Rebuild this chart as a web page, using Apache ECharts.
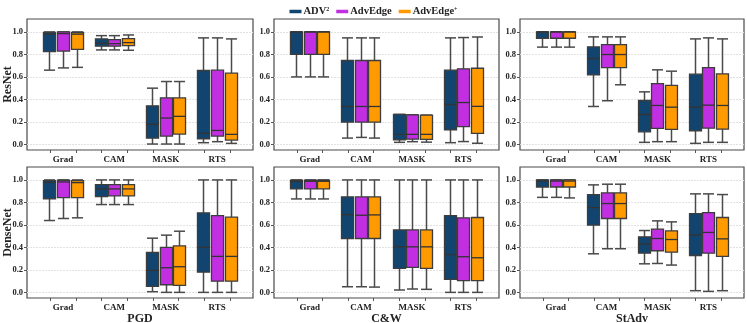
<!DOCTYPE html>
<html>
<head>
<meta charset="utf-8">
<script src="https://cdn.jsdelivr.net/npm/echarts@6/dist/echarts.min.js"></script>
<style>
  html, body { margin: 0; padding: 0; background: #fff; }
  #main { width: 747px; height: 323px; }
</style>
</head>
<body>
<div id="main"></div>
<script>
// each box: [lower whisker, q1, median, q3, upper whisker], one per category
var categories = ['Grad', 'CAM', 'MASK', 'RTS'];
var methods = ['ADV²', 'AdvEdge', 'AdvEdge⁺'];
var attacks = ['PGD', 'C&W', 'StAdv'];
var models = ['ResNet', 'DenseNet'];
var yTicks = [0, 0.2, 0.4, 0.6, 0.8, 1.0];

// ResNet / PGD
var RES_PGD_ADV = [[0.66, 0.825, 0.98, 0.995, 1.0], [0.84, 0.873, 0.90, 0.938, 0.967], [0.003, 0.056, 0.178, 0.343, 0.50], [0.015, 0.05, 0.098, 0.657, 0.947]];
var RES_PGD_EDGE = [[0.68, 0.83, 0.985, 1.0, 1.0], [0.84, 0.873, 0.896, 0.932, 0.967], [0.003, 0.074, 0.234, 0.414, 0.559], [0.024, 0.074, 0.124, 0.66, 0.947]];
var RES_PGD_PLUS = [[0.685, 0.845, 0.98, 0.995, 1.0], [0.837, 0.879, 0.905, 0.94, 0.973], [0.003, 0.092, 0.249, 0.414, 0.559], [0.009, 0.038, 0.089, 0.633, 0.938]];
// ResNet / C&W
var RES_CW_ADV = [[0.60, 0.80, 1.0, 1.0, 1.0], [0.056, 0.198, 0.337, 0.746, 0.947], [0.018, 0.041, 0.089, 0.266, 0.266], [0.015, 0.13, 0.355, 0.66, 0.947]];
var RES_CW_EDGE = [[0.60, 0.80, 1.0, 1.0, 1.0], [0.062, 0.198, 0.337, 0.746, 0.947], [0.024, 0.047, 0.089, 0.263, 0.263], [0.025, 0.157, 0.372, 0.672, 0.95]];
var RES_CW_PLUS = [[0.60, 0.80, 1.0, 1.0, 1.0], [0.056, 0.198, 0.337, 0.746, 0.947], [0.02, 0.044, 0.089, 0.26, 0.26], [0.01, 0.097, 0.338, 0.677, 0.955]];
// ResNet / StAdv
var RES_ST_ADV = [[0.865, 0.944, 1.0, 1.0, 1.0], [0.337, 0.618, 0.763, 0.867, 0.956], [0.018, 0.112, 0.266, 0.39, 0.467], [0.009, 0.121, 0.331, 0.624, 0.938]];
var RES_ST_EDGE = [[0.865, 0.944, 1.0, 1.0, 1.0], [0.388, 0.683, 0.799, 0.888, 0.956], [0.024, 0.142, 0.346, 0.541, 0.663], [0.018, 0.145, 0.349, 0.683, 0.947]];
var RES_ST_PLUS = [[0.865, 0.944, 1.0, 1.0, 1.0], [0.53, 0.683, 0.799, 0.888, 0.956], [0.024, 0.133, 0.331, 0.524, 0.651], [0.018, 0.136, 0.346, 0.627, 0.938]];
// DenseNet / PGD
var DEN_PGD_ADV = [[0.639, 0.831, 0.979, 0.994, 1.0], [0.781, 0.852, 0.92, 0.959, 1.0], [0.006, 0.053, 0.195, 0.355, 0.482], [0.0, 0.18, 0.40, 0.707, 1.0]];
var DEN_PGD_EDGE = [[0.657, 0.843, 0.982, 0.997, 1.0], [0.781, 0.858, 0.92, 0.959, 1.0], [0.0, 0.068, 0.219, 0.40, 0.509], [0.0, 0.10, 0.32, 0.683, 1.0]];
var DEN_PGD_PLUS = [[0.663, 0.843, 0.976, 0.994, 1.0], [0.781, 0.858, 0.92, 0.959, 1.0], [0.0, 0.062, 0.228, 0.414, 0.544], [0.0, 0.10, 0.32, 0.669, 1.0]];
// DenseNet / C&W
var DEN_CW_ADV = [[0.831, 0.92, 0.988, 0.997, 1.0], [0.05, 0.479, 0.692, 0.849, 1.0], [0.021, 0.213, 0.405, 0.555, 1.0], [0.0, 0.115, 0.337, 0.683, 1.0]];
var DEN_CW_EDGE = [[0.831, 0.92, 0.988, 0.997, 1.0], [0.05, 0.479, 0.686, 0.849, 1.0], [0.03, 0.222, 0.405, 0.555, 1.0], [0.0, 0.104, 0.317, 0.663, 1.0]];
var DEN_CW_PLUS = [[0.831, 0.92, 0.988, 0.997, 1.0], [0.047, 0.479, 0.689, 0.849, 1.0], [0.027, 0.213, 0.405, 0.555, 1.0], [0.0, 0.104, 0.308, 0.666, 1.0]];
// DenseNet / StAdv
var DEN_ST_ADV = [[0.845, 0.937, 0.99, 1.0, 1.0], [0.343, 0.598, 0.754, 0.87, 0.956], [0.254, 0.349, 0.429, 0.494, 0.55], [0.015, 0.328, 0.512, 0.701, 0.876]];
var DEN_ST_EDGE = [[0.845, 0.937, 0.99, 1.0, 1.0], [0.388, 0.657, 0.79, 0.885, 0.962], [0.257, 0.37, 0.479, 0.562, 0.636], [0.009, 0.349, 0.533, 0.71, 0.876]];
var DEN_ST_PLUS = [[0.84, 0.937, 0.99, 1.0, 1.0], [0.388, 0.657, 0.79, 0.885, 0.962], [0.243, 0.358, 0.47, 0.547, 0.627], [0.015, 0.32, 0.476, 0.666, 0.87]];

var panels = [
  [RES_PGD_ADV, RES_PGD_EDGE, RES_PGD_PLUS],
  [RES_CW_ADV, RES_CW_EDGE, RES_CW_PLUS],
  [RES_ST_ADV, RES_ST_EDGE, RES_ST_PLUS],
  [DEN_PGD_ADV, DEN_PGD_EDGE, DEN_PGD_PLUS],
  [DEN_CW_ADV, DEN_CW_EDGE, DEN_CW_PLUS],
  [DEN_ST_ADV, DEN_ST_EDGE, DEN_ST_PLUS]
];

var colors = ['#124470', '#c22fe3', '#ff9a00'];
var offsets = [-0.265, 0, 0.265];
var BOX_W = 0.235;
var FONT = '"Liberation Serif", "Times New Roman", serif';
var EDGE = '#3d3d3d';

var lefts = [27, 274, 520];
var widths = [226, 225, 224];
var tops = [19, 167];
var H = 131;

function renderBox(hue) {
  return function (params, api) {
    var x = api.value(0) + offsets[hue];
    var lo = api.coord([x, api.value(1)]);
    var q1 = api.coord([x, api.value(2)]);
    var md = api.coord([x, api.value(3)]);
    var q3 = api.coord([x, api.value(4)]);
    var hi = api.coord([x, api.value(5)]);
    var half = api.size([BOX_W, 0])[0] / 2;
    var cap = half * 0.92;
    var cx = Math.round(lo[0]) + 0.5;
    var wStyle = { stroke: '#4a4a4a', lineWidth: 1.5 };
    return {
      type: 'group',
      children: [
        { type: 'line', shape: { x1: cx, y1: lo[1], x2: cx, y2: q1[1] }, style: wStyle },
        { type: 'line', shape: { x1: cx, y1: q3[1], x2: cx, y2: hi[1] }, style: wStyle },
        { type: 'line', shape: { x1: cx - cap, y1: lo[1], x2: cx + cap, y2: lo[1] }, style: wStyle },
        { type: 'line', shape: { x1: cx - cap, y1: hi[1], x2: cx + cap, y2: hi[1] }, style: wStyle },
        { type: 'rect', shape: { x: cx - half, y: q3[1], width: half * 2, height: Math.max(q1[1] - q3[1], 0.5) },
          style: { fill: colors[hue], stroke: EDGE, lineWidth: 1.3 } },
        { type: 'line', shape: { x1: cx - half, y1: md[1], x2: cx + half, y2: md[1] }, style: { stroke: '#333', lineWidth: 1.3 } }
      ]
    };
  };
}

var grids = [], xAxes = [], yAxes = [], series = [];
for (var p = 0; p < 6; p++) {
  var row = Math.floor(p / 3), col = p % 3;
  grids.push({
    left: lefts[col], top: tops[row], width: widths[col], height: H,
    outerBoundsMode: 'none',
    show: true, borderColor: '#4a4a4a', borderWidth: 1.2, backgroundColor: 'transparent'
  });
  xAxes.push({
    type: 'value', gridIndex: p, min: -0.7, max: 3.7, position: 'bottom',
    name: row === 1 ? attacks[col] : '',
    nameLocation: 'middle', nameGap: 15, nameMoveOverlap: false,
    nameTextStyle: { fontFamily: FONT, fontWeight: 'bold', fontSize: 12, color: '#222' },
    axisLine: { show: false, onZero: false },
    axisTick: { show: true, length: 3, customValues: [-0.25, 0.25, 0.75, 1.25, 1.75, 2.25, 2.75, 3.25], lineStyle: { color: '#555' } },
    splitLine: { show: false },
    axisLabel: {
      customValues: [0, 1, 2, 3], margin: 5,
      formatter: function (v) { return categories[Math.round(v)]; },
      fontFamily: FONT, fontWeight: 'bold', fontSize: 9, color: '#222'
    }
  });
  yAxes.push({
    type: 'value', gridIndex: p, min: -0.05, max: 1.115, position: 'left',
    name: col === 0 ? models[row] : '',
    nameLocation: 'middle', nameGap: 13, nameRotate: 90, nameMoveOverlap: false,
    nameTextStyle: { fontFamily: FONT, fontWeight: 'bold', fontSize: 12, color: '#222' },
    axisLine: { show: false, onZero: false },
    axisTick: { show: true, length: 3, customValues: yTicks, lineStyle: { color: '#555' } },
    splitLine: { show: true, lineStyle: { color: '#e2e2e2', width: 1, type: [2, 1] } },
    axisLabel: {
      customValues: yTicks, margin: 4,
      formatter: function (v) { return v.toFixed(1); },
      fontFamily: FONT, fontWeight: 'bold', fontSize: 8.5, color: '#222'
    }
  });
  for (var h = 0; h < 3; h++) {
    var rows = panels[p][h].map(function (b, i) { return [i].concat(b); });
    series.push({
      type: 'custom', name: methods[h], xAxisIndex: p, yAxisIndex: p,
      itemStyle: { color: colors[h] },
      renderItem: renderBox(h),
      encode: { x: 0, y: [1, 2, 3, 4, 5] },
      data: rows,
      silent: true
    });
  }
}

var option = {
  animation: false,
  legend: {
    top: 1, left: 'center',
    icon: 'rect', itemWidth: 12, itemHeight: 3.5, itemGap: 7,
    data: methods.map(function (m, i) { return { name: m, itemStyle: { color: colors[i] } }; }),
    formatter: function (n) {
      if (n === 'ADV²') return 'ADV{s|2}';
      if (n === 'AdvEdge⁺') return 'AdvEdge{s|+}';
      return n;
    },
    textStyle: {
      fontFamily: FONT, fontWeight: 'bold', fontSize: 10.5, color: '#222', padding: [0, 0, 0, -3],
      rich: { s: { fontFamily: FONT, fontWeight: 'bold', fontSize: 6, color: '#222', verticalAlign: 'top', padding: [0, 0, 5, 0] } }
    }
  },
  grid: grids,
  xAxis: xAxes,
  yAxis: yAxes,
  series: series
};

var myChart = echarts.init(document.getElementById('main'));
myChart.setOption(option);
</script>
</body>
</html>
